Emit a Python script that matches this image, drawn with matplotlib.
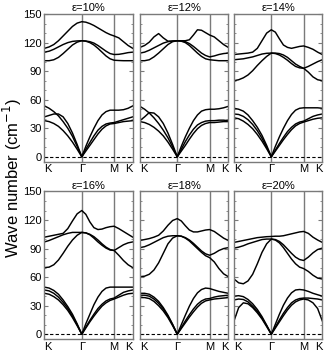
import numpy as np
import matplotlib.pyplot as plt

plt.rcParams['font.family'] = ['Liberation Sans', 'DejaVu Sans']

# K - Gamma - M - K path of the hexagonal zone (segment lengths in 2pi/a)
kg, gm, mk = 4 / 3, 2 / np.sqrt(3), 2 / 3
nodes = [0, kg, kg + gm, kg + gm + mk]
node_labels = ['K', 'Γ', 'M', 'K']
q = np.concatenate([np.linspace(0, kg, 9),
                    np.linspace(kg, kg + gm, 9)[1:],
                    np.linspace(kg + gm, kg + gm + mk, 5)[1:]])

strains = ['10', '12', '14', '16', '18', '20']

bands_10 = [
    [114, 115.5, 118, 122, 127, 132, 137, 140.5, 142, 141.5, 140, 138, 135.5, 133, 130.5, 128.5, 127, 125, 121, 117, 114],
    [110, 111, 113, 115.5, 118, 120, 121.3, 121.8, 122, 121.7, 121, 119.5, 117, 114, 111, 108.5, 107.5, 107.7, 108.5, 109.5, 110],
    [101, 101, 102, 104.5, 108.5, 113, 117.5, 120.5, 122, 121.5, 120, 117.5, 114, 110, 106, 103, 101.5, 101.2, 101, 101, 101],
    [53.5, 51, 47.5, 43, 37, 30, 21.5, 11, 0, 11, 21, 30, 38, 44, 47.5, 49, 49, 49, 49.5, 51, 53.5],
    [42, 43.5, 45, 45, 42, 35, 25, 13, 0, 8, 15, 22, 28, 32, 34.5, 35.5, 36, 37.5, 39, 40.5, 42],
    [38, 37, 35, 32, 27.5, 22, 15.5, 8, 0, 6, 12, 18, 24, 29, 32.5, 34.5, 35, 36, 37, 37.5, 38],
]
bands_12 = [
    [115, 117, 120.5, 126, 129.5, 125, 121.5, 121.5, 122, 122, 122, 123, 128, 133.5, 133, 130.5, 128, 126, 122, 118, 115],
    [109, 110, 112, 114.5, 117, 119.5, 121, 121.8, 122, 121.8, 121, 119, 116, 112.5, 109, 106.5, 105, 106, 107.5, 108.5, 109],
    [101, 101, 102, 105, 109, 113.5, 118, 121, 122, 121.5, 120, 117, 113, 109, 105.5, 103, 102, 101.5, 101, 101, 101],
    [53, 50, 46, 41, 35, 28, 20, 10.5, 0, 11, 21, 30, 38, 44, 48, 49.5, 50, 50, 50.5, 51.5, 53],
    [38, 42, 46.5, 46, 42, 35, 25, 13, 0, 8, 16, 23, 29, 33.5, 36, 37.5, 38, 38, 38.5, 38.5, 38],
    [37, 36, 34, 31, 27, 22, 15.5, 8, 0, 6, 12, 18.5, 24.5, 29.5, 33, 35, 36, 36, 36.5, 37, 37],
]
bands_14 = [
    [107.5, 108, 108.5, 109, 110, 114, 122, 130, 133.5, 131, 124, 117.5, 115, 114, 115, 116, 116.5, 115, 113, 110, 107.5],
    [102, 102.5, 103, 104, 105, 106.5, 108, 108.8, 109, 109, 108.5, 107, 104.5, 101, 97.5, 95, 93, 95, 97.5, 100, 102],
    [80, 81, 83, 86, 90.5, 96, 101, 105.5, 109, 108.5, 107, 104.5, 101.5, 98, 95, 93.5, 93, 89, 84, 81, 80],
    [51, 50, 48, 44, 38, 31, 22.5, 12, 0, 11, 21, 30, 38, 44.5, 49, 51, 51.5, 51.5, 51.5, 51.5, 51],
    [45, 44.5, 42.5, 39, 34, 27.5, 19.5, 10, 0, 7, 14, 20.5, 26.5, 31, 34.5, 36.5, 37.5, 40, 42.5, 44, 45],
    [41, 40, 37.5, 34, 29.5, 23.5, 16.5, 8.5, 0, 6, 12, 18, 23.5, 28.5, 32.5, 35, 36.5, 38, 39.5, 40.5, 41],
]
bands_16 = [
    [102, 103, 104, 105, 106, 111, 119, 126.5, 130, 126, 118, 112, 110, 110.5, 112, 113, 113.5, 111, 108, 105, 102],
    [97, 98.5, 100.5, 102.5, 104.5, 106, 107, 107, 107, 106.5, 105, 102.5, 99, 95, 91.5, 89, 88, 91, 94, 96, 97],
    [70, 70.5, 73, 78, 85, 92.5, 99, 104, 107, 106.5, 104.5, 101, 97, 93.5, 90.5, 88.5, 88, 83, 77.5, 73, 70],
    [49.5, 48.5, 46, 42, 36, 29, 21, 11, 0, 11, 21, 31, 39, 45, 48.5, 49.5, 49.5, 49.5, 49.5, 49.5, 49.5],
    [46.5, 45.5, 43, 39, 33.5, 27, 19, 10, 0, 7.5, 14.5, 21, 27, 31.5, 35, 37, 38, 41, 44, 45.5, 46.5],
    [43, 42, 39.5, 36, 31, 25, 17.5, 9, 0, 6.5, 13, 19, 24.5, 29.5, 33, 35.5, 37, 39, 41, 42.5, 43],
]
bands_18 = [
    [98.5, 99.5, 100.5, 102, 104, 108.5, 114.5, 119.5, 121.5, 119, 114, 109.5, 107.5, 107.5, 108.5, 109.5, 110, 108, 104.5, 101, 98.5],
    [91, 92, 94, 96.5, 99, 101.5, 103, 103.5, 103.5, 103, 101.5, 99, 95.5, 91.5, 87.5, 84.5, 83, 85, 88, 90, 91],
    [60.5, 61, 63, 67.5, 75, 85, 95, 101, 103.5, 103, 101, 98, 94, 90, 86, 82.5, 80.5, 76, 69, 63.5, 60.5],
    [43, 43, 42, 39, 34.5, 28, 20, 10.5, 0, 10, 20, 29.5, 37.5, 43.5, 47, 48.5, 48, 46.5, 45, 44, 43],
    [41, 41, 40, 37, 32.5, 26.5, 19, 10, 0, 7, 14, 20.5, 26.5, 31.5, 35, 37, 37.5, 39, 40, 40.5, 41],
    [38.5, 38.5, 37.5, 34.5, 30, 24.5, 17.5, 9, 0, 6, 12, 18, 23.5, 28.5, 32.5, 35, 36, 37, 37.5, 38, 38.5],
]
bands_20 = [
    [96.5, 97.5, 98.5, 99.5, 100.5, 101.5, 102, 102.5, 102.7, 103, 103, 103.5, 104.5, 105.5, 106.5, 107.5, 108, 106, 102, 99, 96.5],
    [90.5, 91.5, 93, 95, 96.5, 98, 99.5, 100, 100, 99.5, 97.5, 94, 89.5, 85, 81, 78.5, 77.5, 81, 85.5, 89, 90.5],
    [58, 54, 53, 56, 63, 74, 86, 95, 100, 99, 96, 91, 85, 79, 74, 70.5, 69, 66, 62, 59, 58],
    [40, 40.5, 39.5, 36.5, 32, 26, 18.5, 9.5, 0, 10.5, 21, 30.5, 38, 43.5, 46.5, 47, 46.5, 45, 43, 41.5, 40],
    [36, 37, 36.5, 34, 29.5, 24, 17, 9, 0, 7.5, 15, 22, 28, 33, 36, 37.5, 38, 38, 37.5, 37, 36],
    [14, 28, 33, 32, 28, 22.5, 16, 8, 0, 6.5, 13, 19.5, 25.5, 30.5, 34, 36, 37, 36, 33, 27, 14],
]
all_bands = [bands_10, bands_12, bands_14, bands_16, bands_18, bands_20]

fig = plt.figure(figsize=(3.27, 3.52), dpi=100)
lefts = [0.136, 0.428, 0.7156]
bottoms = [0.541, 0.037]
w, h = 0.27, 0.419
grey = '#7a7a7a'

for i, (eps, bands) in enumerate(zip(strains, all_bands)):
    r, c = divmod(i, 3)
    ax = fig.add_axes([lefts[c], bottoms[r], w, h])
    for b in bands:
        ax.plot(q, b, color='k', lw=1.05)
    for x in nodes[1:3]:
        ax.axvline(x, color=grey, lw=1.0, zorder=0)
    ax.axhline(0, color='k', lw=0.8, ls=(0, (3, 2)))
    ax.set_xlim(nodes[0], nodes[-1])
    ax.set_ylim(-5, 150)
    ax.set_xticks(nodes)
    ax.set_xticklabels(node_labels, fontsize=8)
    ax.tick_params(axis='x', length=0, pad=2)
    xl = ax.get_xticklabels()
    xl[0].set_ha('left')
    xl[-1].set_ha('right')
    ax.set_yticks(np.arange(0, 151, 30))
    ax.set_yticks(np.arange(0, 151, 10), minor=True)
    ax.tick_params(axis='y', which='both', direction='in', left=True, right=True,
                   color=grey, labelsize=8, pad=2)
    ax.tick_params(axis='y', which='major', length=3)
    ax.tick_params(axis='y', which='minor', length=1.5)
    if c != 0:
        ax.set_yticklabels([])
    for s in ax.spines.values():
        s.set_color(grey)
        s.set_linewidth(1.0)
    ax.set_title('ε=' + eps + '%', fontsize=8, pad=2)

fig.text(0.037, 0.494, 'Wave number (cm$^{-1}$)', rotation=90,
         ha='center', va='center', fontsize=12)

fig.savefig('out.png', dpi=100)
